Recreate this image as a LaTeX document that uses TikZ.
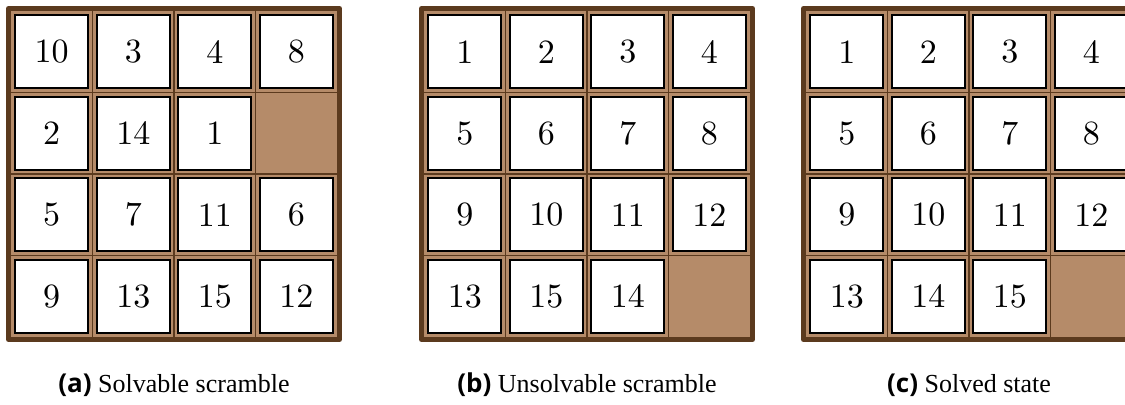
\documentclass[tikz,border=0pt]{standalone}
\usepackage{fontspec}
\newfontfamily\tilefont{lmroman10-regular}[Extension=.otf]
\newfontfamily\captionserif{Liberation Serif}
\newfontfamily\captionsans{Open Sans}
\definecolor{boardFrame}{HTML}{5B3A1E}
\definecolor{boardFill}{HTML}{B58B69}

\begin{document}
\begin{tikzpicture}[x=0.5pt, y=-0.5pt,
    tile/.style={draw=black, line width=1pt, fill=white, minimum size=36.5pt,
        inner sep=0pt, font=\fontsize{17}{20}\selectfont\tilefont},
    subcaption/.style={font=\fontsize{13}{15}\selectfont\captionserif}]

    \useasboundingbox (0,0) rectangle (1125,405);

    % boards: left edge / tiles row by row (0 = gap) / label / caption
    \foreach \bx/\vals/\lbl/\cap in {
        11/{10,3,4,8,2,14,1,0,5,7,11,6,9,13,15,12}/a/{Solvable scramble},
        424/{1,2,3,4,5,6,7,8,9,10,11,12,13,15,14,0}/b/{Unsolvable scramble},
        806/{1,2,3,4,5,6,7,8,9,10,11,12,13,14,15,0}/c/{Solved state}} {

        % tray
        \fill[boardFill] (\bx,11) rectangle ++(326,326);
        \foreach \i in {1,2,3} {
            \draw[boardFrame, line width=0.6pt] (\bx+\i*81.5,11) -- ++(0,326);
            \draw[boardFrame, line width=0.6pt] (\bx,11+\i*81.5) -- ++(326,0);
        }
        \draw[boardFrame, line width=2.5pt, line join=round] (\bx-2.5,8.5) rectangle ++(331,331);

        % tiles
        \foreach \v [count=\k from 0] in \vals {
            \pgfmathtruncatemacro\col{mod(\k,4)}
            \pgfmathtruncatemacro\row{div(\k,4)}
            \ifnum\v>0
                \node[tile] (\lbl-\v) at (\bx+40.75+\col*81.5, 51.75+\row*81.5) {\v};
            \fi
        }

        \node[subcaption] (cap-\lbl) at (\bx+163,385) {{\captionsans\bfseries (\lbl)} \cap};
    }

\end{tikzpicture}
\end{document}
